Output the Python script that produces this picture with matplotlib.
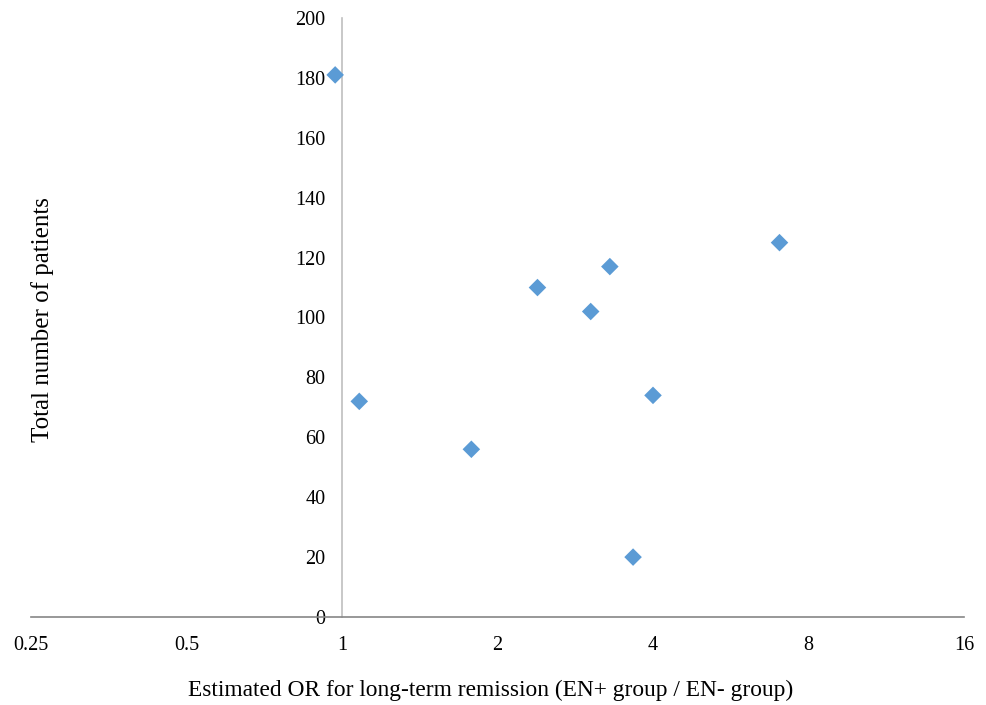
import matplotlib
matplotlib.use("Agg")
import matplotlib.pyplot as plt
from matplotlib.ticker import FixedLocator, FixedFormatter

plt.rcParams['font.family'] = ['Liberation Serif', 'DejaVu Serif']

odds_ratio = [0.97, 1.08, 1.78, 2.39, 3.03, 3.30, 4.0, 3.66, 7.03]
total_patients = [181, 72, 56, 110, 102, 117, 74, 20, 125]
x_ticks = [0.25, 0.5, 1, 2, 4, 8, 16]
x_tick_labels = ["0.25", "0.5", "1", "2", "4", "8", "16"]
y_ticks = [0, 20, 40, 60, 80, 100, 120, 140, 160, 180, 200]

fig = plt.figure(figsize=(9.86, 7.05), dpi=100)
ax = fig.add_axes([31/986, 1-617/705, (964-31)/986, (617-18)/705])

ax.scatter(odds_ratio, total_patients, marker='D', s=80, color='#5B9BD5',
           edgecolors='none', zorder=3)

ax.set_xscale('log', base=2)
ax.set_xlim(0.25, 16)
ax.set_ylim(0, 200)
ax.xaxis.set_major_locator(FixedLocator(x_ticks))
ax.xaxis.set_major_formatter(FixedFormatter(x_tick_labels))
ax.xaxis.set_minor_locator(FixedLocator([]))
ax.set_yticks(y_ticks)

for s in ['top', 'right']:
    ax.spines[s].set_visible(False)
ax.spines['left'].set_position(('data', 1))
ax.spines['left'].set_color('#BFBFBF')
ax.spines['left'].set_linewidth(1.2)
ax.spines['bottom'].set_color('#868686')
ax.spines['bottom'].set_linewidth(1.2)
ax.spines['left'].set_zorder(1)

ax.tick_params(axis='both', length=0, labelsize=14.5)
ax.tick_params(axis='x', pad=14)
ax.tick_params(axis='y', pad=12)

fig.text(43/986, 1-320/705, 'Total number of patients', rotation=90,
         fontsize=18, ha='center', va='center')
fig.text(491/986, 1-690/705,
         'Estimated OR for long-term remission (EN+ group / EN- group)',
         fontsize=16.8, ha='center', va='center')

fig.savefig('out.png', dpi=100)
